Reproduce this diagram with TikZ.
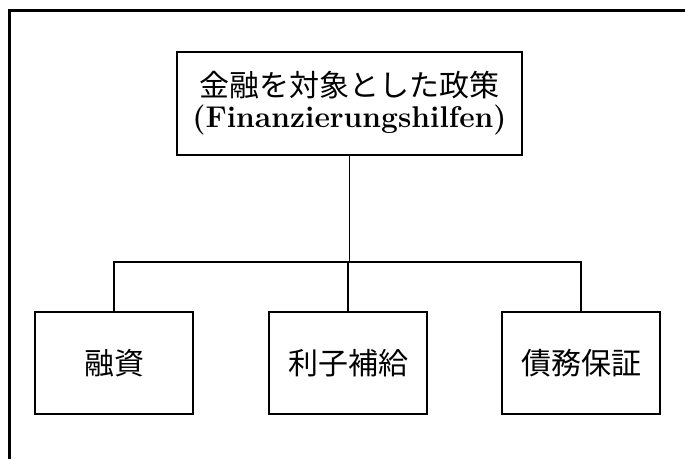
\documentclass[tikz,border=0pt]{standalone}
\usepackage{fontspec}
\newfontfamily\cjk{Noto Sans CJK JP}
\begin{document}
\begin{tikzpicture}[x=1pt,y=-1pt,
  box/.style={draw, line width=2.4pt, inner sep=0pt, align=center},
  leaf/.style={box, minimum width=158pt, minimum height=102pt, font=\cjk\fontsize{30}{34}\selectfont},
  conn/.style={line width=1.2pt}]
\useasboundingbox (0,0) rectangle (685,459);
\draw[line width=3pt] (9,459) -- (9,10) -- (685,10);
\node[box, minimum width=345pt, minimum height=103pt] (top) at (349.5,103.5)
  {{\cjk\fontsize{30}{36}\selectfont 金融を対象とした政策}\\[5pt]
   {\fontsize{30}{32}\selectfont\bfseries (Finanzierungshilfen)}};
\node[leaf] (b1) at (114,363) {\raisebox{-7pt}{融資}};
\node[leaf] (b2) at (348,363) {\raisebox{-7pt}{利子補給}};
\node[leaf] (b3) at (581,363) {\raisebox{-7pt}{債務保証}};
\coordinate (bus) at (348,262);
\draw[conn] (top.south) -- (top.south |- bus);
\draw[conn] (b1.north) -- (b1.north |- bus) -- (b3.north |- bus) -- (b3.north);
\draw[conn] (b2.north) -- (b2.north |- bus);
\end{tikzpicture}
\end{document}
